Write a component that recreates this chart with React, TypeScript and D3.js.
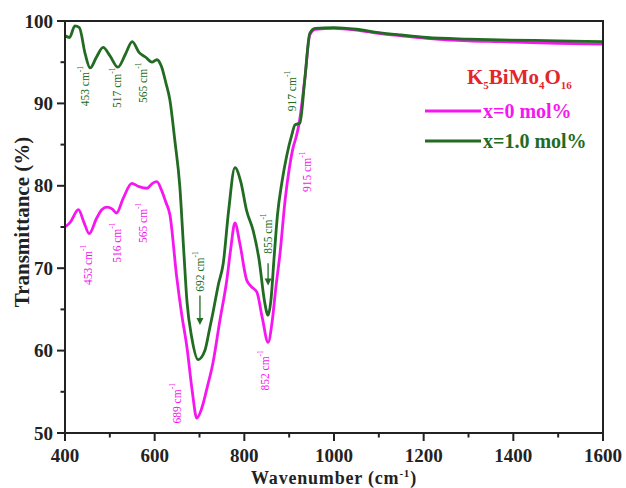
import React from "react";
import * as d3 from "d3";

// x = 0 mol% (magenta)
const wnMagenta = [400, 412, 430, 442, 454, 470, 482, 493, 505, 515, 530, 549, 565, 583, 595, 605, 615, 625, 634, 649, 660, 672, 684, 694, 705, 717, 730, 745, 761, 770, 779, 790, 805, 815, 828, 840, 853, 862, 870, 880, 891, 900, 909, 915, 922, 935, 946, 958, 1000, 1050, 1100, 1150, 1207, 1300, 1370, 1500, 1600];
const tMagenta = [75.0, 75.6, 77.1, 75.6, 74.2, 76.0, 77.1, 77.4, 77.2, 76.7, 78.5, 80.3, 79.9, 79.7, 80.3, 80.5, 79.5, 78.0, 76.5, 69.0, 64.5, 60.4, 55.0, 51.8, 53.0, 55.5, 58.5, 63.5, 68.6, 72.5, 75.5, 73.0, 68.6, 67.8, 67.1, 64.0, 61.0, 63.5, 67.5, 72.0, 78.3, 82.0, 84.7, 85.8, 87.5, 93.0, 98.3, 99.0, 99.1, 98.9, 98.5, 98.2, 97.9, 97.6, 97.5, 97.3, 97.2];

// x = 1.0 mol% (green)
const wnGreen = [400, 410, 422, 432, 445, 456, 470, 485, 500, 518, 535, 550, 565, 580, 594, 605, 615, 625, 634, 645, 656, 665, 672, 683, 697, 712, 722, 730, 742, 753, 765, 779, 792, 805, 820, 833, 845, 853, 860, 866, 874, 884, 894, 906, 913, 924, 935, 946, 958, 1000, 1050, 1100, 1150, 1207, 1300, 1370, 1500, 1600];
const tGreen = [98.2, 98.0, 99.4, 99.2, 96.0, 94.3, 95.6, 96.8, 95.8, 94.4, 96.0, 97.5, 96.2, 95.6, 95.0, 95.3, 94.5, 92.5, 90.4, 85.5, 80.0, 72.0, 66.0, 61.5, 58.9, 60.0, 62.5, 64.6, 68.0, 70.6, 77.0, 82.2, 80.5, 77.0, 74.5, 71.0, 66.0, 64.3, 66.5, 71.0, 76.5, 80.5, 83.5, 86.2, 87.4, 87.6, 93.0, 98.5, 99.1, 99.2, 99.0, 98.6, 98.3, 98.0, 97.8, 97.7, 97.6, 97.5];

const xTicks = [400, 600, 800, 1000, 1200, 1400, 1600];
const xMinor = [500, 700, 900, 1100, 1300, 1500];
const yTicks = [50, 60, 70, 80, 90, 100];
const yMinor = [55, 65, 75, 85, 95];

const seriesNames = ["x=0 mol%", "x=1.0 mol%"];

// peak annotations: label value, position (wavenumber, transmittance), series, optional arrow
const annLabels = ["453", "517", "565", "917", "692", "855", "453", "516", "565", "689", "852", "915"];
const annWn = [445, 516, 574, 906, 701, 853, 451, 516, 574, 650, 846, 940];
const annT = [92.1, 91.9, 92.5, 91.5, 69.6, 74.2, 70.4, 73.1, 75.5, 53.6, 57.6, 81.7];
const annSeries = [1, 1, 1, 1, 1, 1, 0, 0, 0, 0, 0, 0];
const annArrowFrom = [null, null, null, null, 66.7, 70.6, null, null, null, null, null, null];
const annArrowTo = [null, null, null, null, 63.1, 67.9, null, null, null, null, null, null];

const COLORS = ["#f516f0", "#226b22"];
const FONT = "'Liberation Serif', 'Times New Roman', serif";

export default function App() {
  const x = d3.scaleLinear().domain([400, 1600]).range([65, 603]);
  const y = d3.scaleLinear().domain([50, 100]).range([433, 21]);

  const line = d3
    .line<[number, number]>()
    .x((d) => x(d[0]))
    .y((d) => y(d[1]))
    .curve(d3.curveMonotoneX);

  const magentaPath = line(wnMagenta.map((w, i) => [w, tMagenta[i]]) as [number, number][]) || "";
  const greenPath = line(wnGreen.map((w, i) => [w, tGreen[i]]) as [number, number][]) || "";

  const [x0, x1] = x.range();
  const [yb, yt] = y.range();

  return (
    <svg
      width={626}
      height={488}
      style={{ position: "absolute", left: 0, top: 0, background: "#fff" }}
      fontFamily={FONT}
    >
      <rect x={0} y={0} width={626} height={488} fill="#fff" />
      <defs>
        <clipPath id="plotClip">
          <rect x={x0} y={yt} width={x1 - x0} height={yb - yt} />
        </clipPath>
      </defs>

      {/* curves */}
      <g clipPath="url(#plotClip)">
        <path d={magentaPath} fill="none" stroke={COLORS[0]} strokeWidth={2.8} strokeLinejoin="round" />
        <path d={greenPath} fill="none" stroke={COLORS[1]} strokeWidth={2.8} strokeLinejoin="round" />
      </g>

      {/* annotations */}
      {annLabels.map((lab, i) => {
        const cx = x(annWn[i]);
        const cy = y(annT[i]);
        const col = COLORS[annSeries[i]];
        const from = annArrowFrom[i];
        const to = annArrowTo[i];
        return (
          <g key={"ann" + i}>
            <text
              transform={`translate(${cx},${cy}) rotate(-90)`}
              textAnchor="middle"
              dominantBaseline="central"
              fontSize={11.5}
              fill={col}
            >
              {lab} cm
              <tspan fontSize={7.5} dy={-5}>
                -1
              </tspan>
            </text>
            {from !== null && to !== null && (
              <g>
                <line x1={cx} x2={cx} y1={y(from)} y2={y(to) - 6} stroke={col} strokeWidth={1.3} />
                <path
                  d={`M${cx - 3.5},${y(to) - 7} L${cx + 3.5},${y(to) - 7} L${cx},${y(to)} Z`}
                  fill={col}
                />
              </g>
            )}
          </g>
        );
      })}

      {/* frame */}
      <rect x={x0} y={yt} width={x1 - x0} height={yb - yt} fill="none" stroke="#222" strokeWidth={2} />

      {/* x ticks */}
      {xTicks.map((t) => (
        <g key={"xt" + t}>
          <line x1={x(t)} x2={x(t)} y1={yb} y2={yb + 8} stroke="#222" strokeWidth={2} />
          <text x={x(t)} y={462} textAnchor="middle" fontSize={19} fontWeight="bold" fill="#222">
            {t}
          </text>
        </g>
      ))}
      {xMinor.map((t) => (
        <line key={"xm" + t} x1={x(t)} x2={x(t)} y1={yb} y2={yb + 4.5} stroke="#222" strokeWidth={2} />
      ))}

      {/* y ticks */}
      {yTicks.map((t) => (
        <g key={"yt" + t}>
          <line x1={x0 - 8} x2={x0} y1={y(t)} y2={y(t)} stroke="#222" strokeWidth={2} />
          <text x={x0 - 12} y={y(t)} dy="0.35em" textAnchor="end" fontSize={19} fontWeight="bold" fill="#222">
            {t}
          </text>
        </g>
      ))}
      {yMinor.map((t) => (
        <line key={"ym" + t} x1={x0 - 4.5} x2={x0} y1={y(t)} y2={y(t)} stroke="#222" strokeWidth={2} />
      ))}

      {/* axis titles */}
      <text x={334} y={484} textAnchor="middle" fontSize={18} fontWeight="bold" fill="#222" letterSpacing={0.8}>
        Wavenumber (cm
        <tspan fontSize={11} dy={-7}>
          -1
        </tspan>
        <tspan dy={7}>)</tspan>
      </text>
      <text
        transform="translate(29,222) rotate(-90)"
        textAnchor="middle"
        fontSize={21}
        fontWeight="bold"
        fill="#222"
      >
        Transmittance (%)
      </text>

      {/* legend */}
      <text x={467} y={84} fontSize={21} fontWeight="bold" fill="#e4262b">
        K<tspan fontSize={11} dy={5}>5</tspan>
        <tspan dy={-5}>BiMo</tspan>
        <tspan fontSize={11} dy={5}>4</tspan>
        <tspan dy={-5}>O</tspan>
        <tspan fontSize={11} dy={5}>16</tspan>
      </text>
      {seriesNames.map((name, i) => (
        <g key={"lg" + i}>
          <line x1={425} x2={481} y1={111 + i * 30} y2={111 + i * 30} stroke={COLORS[i]} strokeWidth={2.8} />
          <text x={483} y={118 + i * 30} fontSize={20} fontWeight="bold" fill={COLORS[i]}>
            {name}
          </text>
        </g>
      ))}
    </svg>
  );
}
